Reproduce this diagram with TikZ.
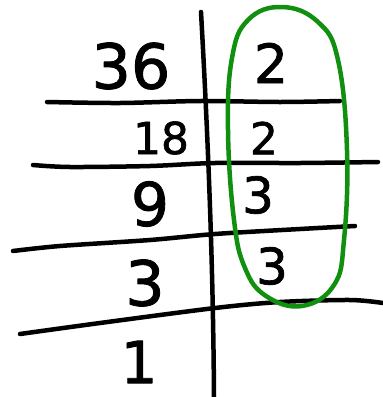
\documentclass[tikz,border=0pt]{standalone}
\usepackage{fontspec}
\setmainfont{DejaVu Sans}
\newfontfamily\handfont[FakeBold=1.4]{DejaVu Sans}
\definecolor{inkgreen}{HTML}{11900F}

\begin{document}
\begin{tikzpicture}[x=1pt,y=-1pt,line cap=round,line join=round]
  \tikzset{ink/.style={draw=black,line width=4.5pt},
    loop/.style={draw=inkgreen,line width=4.5pt},
    digit/.style={inner sep=0pt,font=\handfont\fontsize{#1}{#1}\selectfont}}
  \useasboundingbox (0,0) rectangle (383,397);
  % grid of the division ladder
  \draw[ink] (201,12) .. controls (207,120) and (213,250) .. (214,397);
  \draw[ink] plot[smooth] coordinates {(47,102) (120,103) (200,101) (280,102) (340,101)};
  \draw[ink] plot[smooth] coordinates {(33,165) (70,167) (150,166) (215,163) (300,163) (378,162)};
  \draw[ink] plot[smooth] coordinates {(13,251) (60,246) (150,240) (215,234) (300,229) (355,226)};
  \draw[ink] plot[smooth] coordinates {(20,334) (100,323) (215,308) (280,302) (350,300) (383,303)};
  % numbers being divided
  \node[digit=62] (n36) at (131,66) {36};
  \node[digit=44] (n18) at (161,138) {18};
  \node[digit=60] (n9) at (150,204) {9};
  \node[digit=62] (n3) at (145,283) {3};
  \node[digit=58] (n1) at (139,362) {1};
  % prime factors
  \node[digit=54] (p1) at (271,63) {2};
  \node[digit=44] (p2) at (264,138) {2};
  \node[digit=50] (p3) at (258,195) {3};
  \node[digit=50] (p4) at (272,266) {3};
  % circled factors
  \draw[loop] plot[smooth cycle,tension=0.7] coordinates {(282,7) (318,22) (338,60) (347,150) (344,240) (334,285) (302,306) (266,296) (245,268) (234,220) (228,130) (232,58) (248,20)};
\end{tikzpicture}
\end{document}
